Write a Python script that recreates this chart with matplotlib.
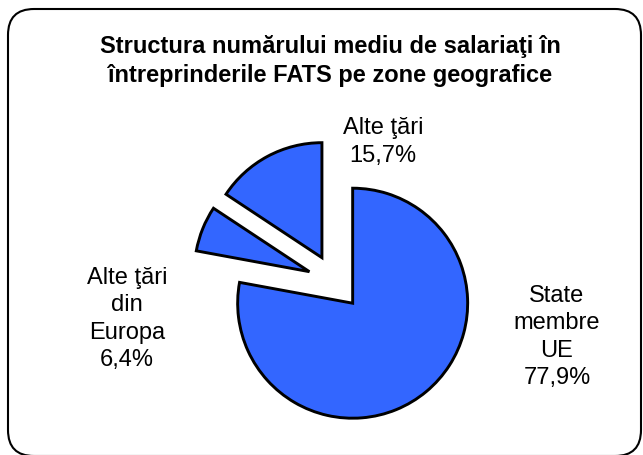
import matplotlib
matplotlib.use("Agg")
import matplotlib.pyplot as plt
from matplotlib.patches import FancyBboxPatch

plt.rcParams['font.family'] = ['Liberation Sans', 'DejaVu Sans']

title = "Structura numărului mediu de salariaţi în\nîntreprinderile FATS pe zone geografice"
categories = ["State\nmembre\nUE", "Alte ţări\ndin\nEuropa", "Alte ţări"]
values = [77.9, 6.4, 15.7]
value_labels = ["77,9%", "6,4%", "15,7%"]
explode_frac = [0.24, 0.24, 0.24]
color = "#3366FF"

W, H = 643, 456
fig = plt.figure(figsize=(W / 100, H / 100), dpi=100)
ax = fig.add_axes([0, 0, 1, 1])

# frame
frame = FancyBboxPatch((8, -1), 633, 447, boxstyle="round,pad=0,rounding_size=26",
                       facecolor='white', edgecolor='black', linewidth=1.5,
                       clip_on=False, zorder=0)
ax.add_patch(frame)

cx, cy, r = 335, H - 283, 115
ax.pie(values, explode=[e * r for e in explode_frac], startangle=90, counterclock=False,
       colors=[color] * 3, center=(cx, cy), radius=r, frame=True,
       wedgeprops=dict(edgecolor='black', linewidth=2.1))
ax.set_xlim(0, W)
ax.set_ylim(0, H)
ax.set_aspect('auto')
ax.axis('off')

ax.text(330, H - 61, title, ha='center', va='center', fontsize=17,
        fontweight='bold', linespacing=1.35)

label_pos = [(557, H - 337), (127, H - 319), (383, H - 142)]
for cat, vl, (x, y) in zip(categories, value_labels, label_pos):
    ax.text(x, y, cat + "\n" + vl, ha='center', va='center', fontsize=17,
            linespacing=1.3)

fig.savefig("out.png", dpi=100)
